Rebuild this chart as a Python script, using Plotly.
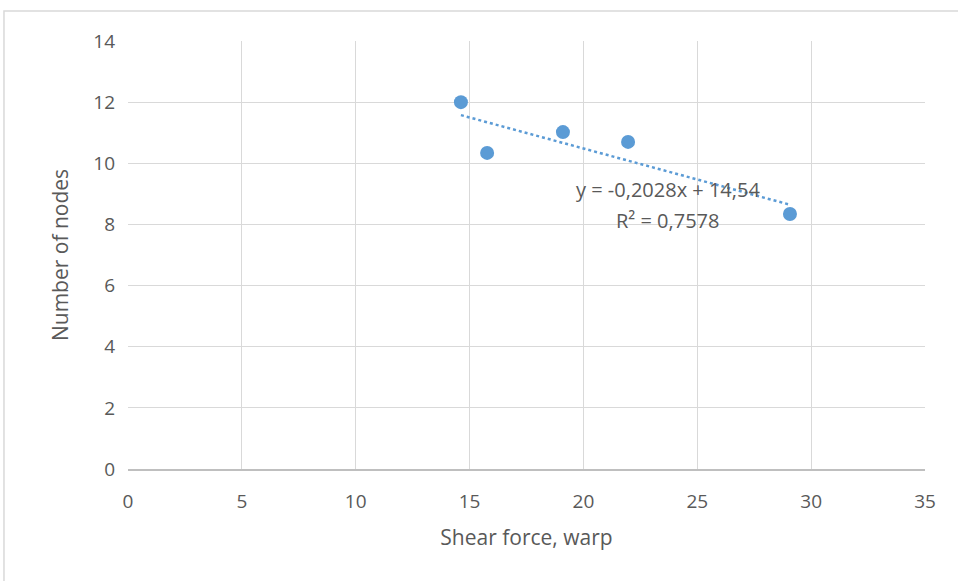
import plotly.graph_objects as go

shear_force = [14.62, 15.77, 19.1, 21.96, 29.07]
nodes = [12.0, 10.34, 11.02, 10.70, 8.34]
slope = -0.2028
intercept = 14.54
eq_line1 = "y = -0,2028x + 14,54"
eq_line2 = "R² = 0,7578"
x_ticks = [0, 5, 10, 15, 20, 25, 30, 35]
y_ticks = [0, 2, 4, 6, 8, 10, 12, 14]

blue = "#5B9BD5"
FONT = "Open Sans, Liberation Sans, sans-serif"
trend_x = [min(shear_force), max(shear_force)]
trend_y = [slope * v + intercept for v in trend_x]

fig = go.Figure()
fig.add_trace(go.Scatter(x=trend_x, y=trend_y, mode="lines",
                         line=dict(color=blue, width=2.5, dash="dot"),
                         hoverinfo="skip", showlegend=False))
fig.add_trace(go.Scatter(x=shear_force, y=nodes, mode="markers",
                         marker=dict(color=blue, size=14),
                         showlegend=False))

fig.add_annotation(x=23.7, y=9.14, xref="x", yref="y", text=eq_line1,
                   showarrow=False, font=dict(family=FONT, size=20, color="#595959"))
fig.add_annotation(x=23.7, y=8.12, xref="x", yref="y", text=eq_line2,
                   showarrow=False, font=dict(family=FONT, size=20, color="#595959"))

fig.add_shape(type="rect", xref="paper", yref="paper",
              x0=-0.1556, x1=1.2, y0=-0.4, y1=1.0701,
              line=dict(color="#d9d9d9", width=1.5), fillcolor="rgba(0,0,0,0)", layer="below")

fig.update_layout(
    width=958, height=581,
    margin=dict(l=128, r=33, t=41, b=112),
    paper_bgcolor="white", plot_bgcolor="white",
    font=dict(family=FONT, size=19, color="#595959"),
    xaxis=dict(range=[0, 35], tickvals=x_ticks, showgrid=True, gridcolor="#d9d9d9", gridwidth=1,
               zeroline=False, showline=True, linecolor="#bfbfbf", linewidth=1.5,
               ticks="", ticklabelstandoff=14,
               title=dict(text="Shear force, warp", standoff=18,
                          font=dict(size=21, color="#595959")),
               tickfont=dict(size=19, color="#595959")),
    yaxis=dict(range=[0, 14], tickvals=y_ticks, showgrid=True, gridcolor="#d9d9d9", gridwidth=1,
               zeroline=False, showline=False, ticks="", ticklabelstandoff=12,
               title=dict(text="Number of nodes", standoff=18,
                          font=dict(size=21, color="#595959")),
               tickfont=dict(size=19, color="#595959")),
)

fig.write_html("out.html")
